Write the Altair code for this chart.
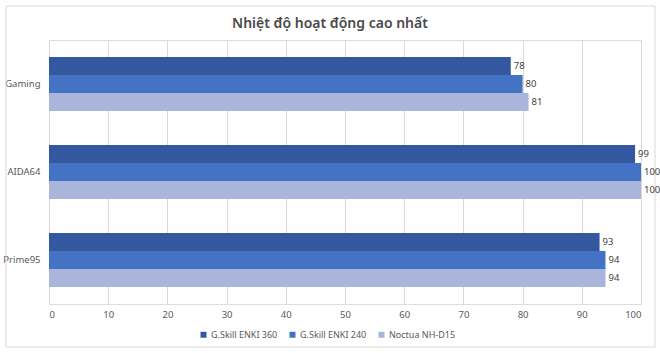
import altair as alt
import pandas as pd

categories = ["Gaming", "AIDA64", "Prime95"]
series = ["G.Skill ENKI 360", "G.Skill ENKI 240", "Noctua NH-D15"]
enki360 = [78, 99, 93]
enki240 = [80, 100, 94]
noctua = [81, 100, 94]
colors = ["#3358A0", "#4472C4", "#A9B5DB"]
ticks = [0, 10, 20, 30, 40, 50, 60, 70, 80, 90, 100]
title_text = "Nhiệt độ hoạt động cao nhất"

rows = []
for i, c in enumerate(categories):
    for s, vals in zip(series, [enki360, enki240, noctua]):
        rows.append({"cat": c, "series": s, "value": vals[i]})
df = pd.DataFrame(rows)

FONT = "Noto Sans"
GREY = "#595959"

y = alt.Y("cat:N", sort=categories, title=None,
          scale=alt.Scale(paddingInner=0.386, paddingOuter=0.193),
          axis=alt.Axis(labelFontSize=9.5, labelColor=GREY, labelFont=FONT,
                        ticks=False, domain=False, labelPadding=9))
yoff = alt.YOffset("series:N", sort=series)
x = alt.X("value:Q", title=None,
          scale=alt.Scale(domain=[0, 100], nice=False),
          axis=alt.Axis(values=ticks, labelFontSize=9.5, labelColor=GREY, labelFont=FONT,
                        ticks=False, domain=False, grid=True, gridColor="#D9D9D9",
                        labelPadding=5))

one = pd.DataFrame({"t": [title_text]})
frame = alt.Chart(one).mark_rect(
    fill=None, stroke="#D9D9D9", strokeWidth=1).encode(
    x=alt.value(-43), x2=alt.value(606), y=alt.value(-34), y2=alt.value(307))

title = alt.Chart(one).mark_text(
    fontSize=14, font=FONT, fontWeight=600, color="#4a4a4a",
    align="center", baseline="alphabetic").encode(
    x=alt.value(281), y=alt.value(-12), text="t:N")

bars = alt.Chart(df).mark_bar().encode(
    x=x, y=y, yOffset=yoff,
    color=alt.Color("series:N", sort=series,
                    scale=alt.Scale(domain=series, range=colors),
                    legend=alt.Legend(title=None, orient="none", direction="horizontal",
                                      legendX=150, legendY=290,
                                      symbolType="square", symbolSize=36,
                                      labelFontSize=9, labelColor=GREY, labelFont=FONT,
                                      columnPadding=10, labelOffset=3)),
)
labels = alt.Chart(df).mark_text(align="left", baseline="middle", dx=3,
                                 fontSize=9.5, color="#404040", font=FONT).encode(
    x="value:Q", y=alt.Y("cat:N", sort=categories), yOffset=alt.YOffset("series:N", sort=series),
    text="value:Q",
)

chart = alt.layer(frame, title, bars, labels).properties(
    width=592, height=264,
    autosize=alt.AutoSizeParams(type="none"),
    padding={"left": 49, "top": 40, "right": 19, "bottom": 49},
).configure_view(stroke=None).configure(background="white")

chart.save("out.html", embed_options={"renderer": "svg", "actions": False})
